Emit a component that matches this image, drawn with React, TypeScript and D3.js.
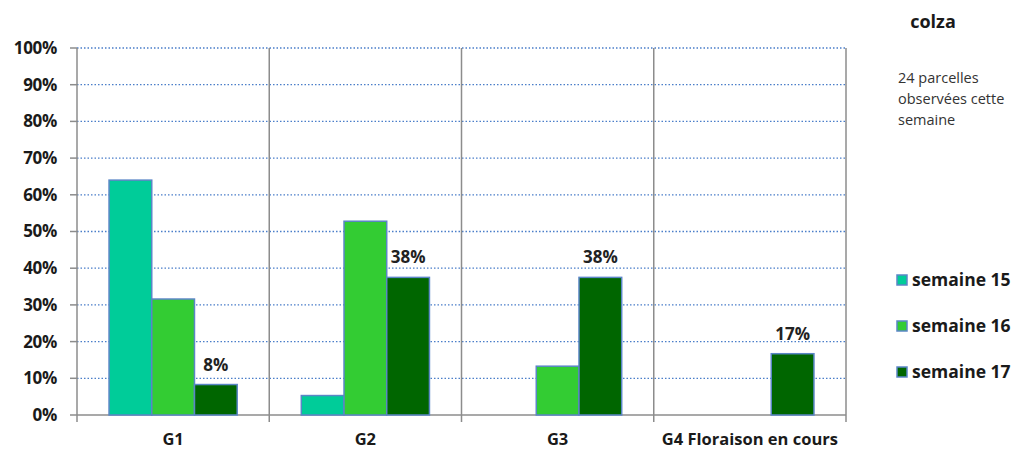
import React from "react";
import { scaleBand, scaleLinear, range } from "d3";

const categories = ["G1", "G2", "G3", "G4 Floraison en cours"];
const seriesNames = ["semaine 15", "semaine 16", "semaine 17"];
const semaine15 = [0.64, 0.053, 0, 0];
const semaine16 = [0.316, 0.528, 0.133, 0];
const semaine17 = [0.083, 0.375, 0.375, 0.167];
const labelledSeries = "semaine 17";
const yTicks = range(0, 11).map((i) => i / 10);
const title = "colza";
const noteLines = ["24 parcelles", "observées cette", "semaine"];

const colors = ["#00CC99", "#33CC33", "#006600"];
const font = "'Open Sans', 'Noto Sans', sans-serif";

export default function App() {
  const width = 1012;
  const height = 450;
  const left = 77;
  const right = 846;
  const top = 48;
  const bottom = 415;

  const values = [semaine15, semaine16, semaine17];

  const x = scaleBand<string>().domain(categories).range([left, right]).padding(0);
  const xInner = scaleBand<string>()
    .domain(seriesNames)
    .range([0, x.bandwidth()])
    .paddingInner(0)
    .paddingOuter(0.75);
  const y = scaleLinear().domain([0, 1]).range([bottom, top]);
  const fmt = (v: number) => `${Math.round(v * 100)}%`;

  const dividers = categories.map((c) => x(c)!).concat([right]);

  return (
    <div style={{ position: "absolute", left: 0, top: 0 }}>
      <svg width={width} height={height} style={{ display: "block", background: "#fff" }} fontFamily={font}>
        {/* gridlines */}
        {yTicks.slice(1).map((t) => (
          <line
            key={t}
            x1={left}
            x2={right}
            y1={y(t)}
            y2={y(t)}
            stroke="#4A7EC9"
            strokeWidth={1.3}
            strokeDasharray="1.5 2"
          />
        ))}
        {/* y axis */}
        <line x1={left} x2={left} y1={top} y2={bottom} stroke="#8c8c8c" strokeWidth={1.5} />
        {yTicks.map((t) => (
          <g key={t}>
            <line x1={left - 7} x2={left} y1={y(t)} y2={y(t)} stroke="#8c8c8c" strokeWidth={1.5} />
            <text
              x={57}
              y={y(t)}
              dy="0.35em"
              textAnchor="end"
              fontSize={17}
              fontWeight="bold"
              fill="#1a1a1a"
              letterSpacing={-0.3}
            >
              {fmt(t)}
            </text>
          </g>
        ))}
        {/* category dividers */}
        {dividers.map((d, i) => (
          <line
            key={i}
            x1={d}
            x2={d}
            y1={i === 0 ? bottom : top}
            y2={bottom + 7}
            stroke="#8c8c8c"
            strokeWidth={1.5}
          />
        ))}
        <line x1={left} x2={right} y1={bottom} y2={bottom} stroke="#8c8c8c" strokeWidth={1.5} />
        {/* bars */}
        {seriesNames.map((s, si) =>
          categories.map((c, ci) => {
            const v = values[si][ci];
            if (!v) return null;
            const bx = x(c)! + xInner(s)!;
            return (
              <g key={s + c}>
                <rect
                  x={bx}
                  y={y(v)}
                  width={xInner.bandwidth()}
                  height={bottom - y(v)}
                  fill={colors[si]}
                  stroke="#5B86C6"
                  strokeWidth={1.5}
                />
                {s === labelledSeries && (
                  <text
                    x={bx + xInner.bandwidth() / 2}
                    y={y(v) - 14}
                    textAnchor="middle"
                    fontSize={17}
                    fontWeight="bold"
                    fill="#222"
                  >
                    {fmt(v)}
                  </text>
                )}
              </g>
            );
          })
        )}
        {/* category labels */}
        {categories.map((c) => (
          <text
            key={c}
            x={x(c)! + x.bandwidth() / 2}
            y={445}
            textAnchor="middle"
            fontSize={16.5}
            fontWeight="bold"
            fill="#1a1a1a"
          >
            {c}
          </text>
        ))}
        {/* title and note */}
        <text x={933} y={22} dy="0.35em" textAnchor="middle" fontSize={18} fontWeight="bold" fill="#1a1a1a">
          {title}
        </text>
        {noteLines.map((l, i) => (
          <text key={l} x={898} y={78 + i * 21} dy="0.35em" fontSize={14.5} fill="#333">
            {l}
          </text>
        ))}
        {/* legend */}
        {seriesNames.map((s, i) => (
          <g key={s} transform={`translate(897,${280 + i * 46})`}>
            <rect x={0} y={-5} width={10} height={10} fill={colors[i]} stroke="#5B86C6" strokeWidth={1.5} />
            <text x={15} y={0} dy="0.35em" fontSize={17.5} fontWeight="bold" fill="#1a1a1a">
              {s}
            </text>
          </g>
        ))}
      </svg>
    </div>
  );
}
